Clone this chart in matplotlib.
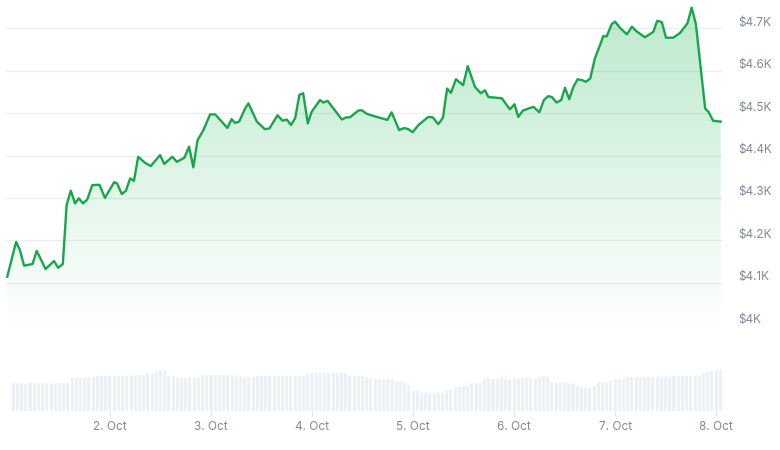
import matplotlib
matplotlib.use("Agg")
import matplotlib.pyplot as plt
import numpy as np
from matplotlib.transforms import ScaledTranslation

plt.rcParams['font.family'] = ['Inter', 'DejaVu Sans']

# ---- data (hours since 1 Oct 00:00) ----
hours = [-0.4, 1.7, 2.6, 3.6, 5.6, 6.6, 8.7, 10.7, 11.7, 12.8, 13.7, 14.7, 15.7, 16.6, 17.6,
         18.6, 19.8, 21.5, 22.8, 25.0, 25.7, 26.8, 27.8, 28.8, 29.7, 30.7, 32.3, 33.7, 35.9,
         36.9, 38.8, 39.9, 41.7, 42.8, 43.8, 44.8, 46.2, 47.8, 49.0, 51.9, 52.9, 53.7, 54.7,
         56.1, 56.9, 58.9, 60.8, 61.9, 63.8, 65.0, 66.0, 67.0, 68.0, 69.0, 69.9, 71.0, 71.9,
         73.9, 74.7, 75.7, 79.1, 80.1, 81.0, 83.0, 83.8, 85.1, 87.4, 89.9, 90.9, 92.7, 93.9,
         94.9, 95.9, 97.3, 99.6, 100.7, 102.0, 103.1, 104.1, 105.0, 106.2, 107.9, 109.0, 110.7,
         112.1, 113.1, 113.9, 115.1, 117.1, 119.0, 120.1, 121.0, 122.1, 124.6, 126.0, 127.1,
         128.1, 129.0, 130.1, 131.2, 132.1, 133.1, 134.1, 135.1, 136.1, 137.1, 138.1, 139.2,
         140.7, 141.2, 142.0, 143.2, 144.0, 145.2, 146.8, 148.0, 149.1, 151.1, 153.1, 154.0,
         155.1, 156.1, 157.8, 159.4, 161.2, 162.2, 163.2, 165.4, 166.2, 167.3, 169.1]
prices = [4114, 4196, 4177, 4140, 4144, 4175, 4132, 4151, 4135, 4144, 4283, 4317, 4287, 4299, 4287,
          4296, 4330, 4331, 4300, 4337, 4334, 4309, 4317, 4346, 4340, 4397, 4383, 4375, 4401,
          4380, 4397, 4385, 4395, 4421, 4372, 4436, 4460, 4497, 4497, 4465, 4486, 4477, 4480,
          4511, 4523, 4480, 4462, 4464, 4495, 4482, 4485, 4472, 4488, 4543, 4547, 4476, 4503,
          4531, 4525, 4529, 4485, 4490, 4490, 4506, 4507, 4498, 4491, 4484, 4502, 4460, 4465,
          4462, 4455, 4472, 4491, 4490, 4474, 4489, 4558, 4548, 4580, 4566, 4611, 4562,
          4547, 4554, 4538, 4537, 4535, 4509, 4521, 4491, 4506, 4515, 4502, 4531,
          4540, 4538, 4525, 4531, 4560, 4533, 4562, 4580, 4578, 4574, 4582, 4629,
          4668, 4682, 4681, 4710, 4716, 4701, 4686, 4704, 4693, 4679, 4692, 4718,
          4715, 4678, 4678, 4689, 4712, 4749, 4710, 4511, 4503, 4482, 4480]

# hourly volume ($M), one bar per hour from 1 Oct 01:00
volumes = [
    1110, 1130, 1120, 1100, 1140, 1120, 1110, 1130, 1120, 1100, 1130, 1110, 1120, 1130, 1320, 1330,
    1320, 1340, 1330, 1350, 1400, 1410, 1400, 1390, 1410, 1400, 1400, 1410, 1400, 1456, 1456, 1460,
    1536, 1540, 1560, 1640, 1650, 1400, 1390, 1340, 1330, 1340, 1350, 1340, 1330, 1456, 1460, 1450,
    1456, 1460, 1450, 1456, 1460, 1380, 1390, 1380, 1370, 1380, 1400, 1410, 1400, 1390, 1400, 1410,
    1400, 1400, 1390, 1400, 1410, 1400, 1536, 1540, 1530, 1536, 1540, 1530, 1520, 1536, 1530, 1520,
    1400, 1410, 1400, 1390, 1380, 1280, 1290, 1280, 1270, 1280, 1260, 1160, 1160, 1150, 1000, 820,
    800, 720, 720, 710, 720, 715, 730, 820, 840, 960, 970, 990, 1000, 1120, 1130, 1140,
    1300, 1310, 1300, 1300, 1310, 1300, 1300, 1310, 1300, 1310, 1320, 1310, 1300, 1380, 1390, 1400,
    1144, 1140, 1150, 1130, 1120, 1100, 990, 980, 970, 960, 990, 1144, 1150, 1160, 1200, 1280,
    1280, 1300, 1352, 1360, 1350, 1340, 1352, 1360, 1350, 1352, 1360, 1370, 1352, 1400, 1400, 1410,
    1400, 1420, 1410, 1400, 1536, 1580, 1620, 1640, 1664]
vol_hours = list(range(1, len(volumes) + 1))

day_ticks = [24, 48, 72, 96, 120, 144, 168]
day_labels = ['2. Oct', '3. Oct', '4. Oct', '5. Oct', '6. Oct', '7. Oct', '8. Oct']
price_ticks = [4000, 4100, 4200, 4300, 4400, 4500, 4600, 4700]
price_labels = ['$4K', '$4.1K', '$4.2K', '$4.3K', '$4.4K', '$4.5K', '$4.6K', '$4.7K']

LINE = '#18a64b'
TXT = '#808a98'
XMIN, XMAX = -0.7, 169.4
YMIN, YMAX = 4000, 4767

fig = plt.figure(figsize=(7.8, 4.5), dpi=100)
fig.patch.set_facecolor('white')

# ---- price axes ----
ax = fig.add_axes([6 / 780, 125 / 450, 716 / 780, 325 / 450])
ax.set_facecolor('none')

# gradient fill under the line
poly = ax.fill_between(hours, prices, YMIN, color='none', lw=0)
path = poly.get_paths()[0]
n = 256
alpha = np.linspace(0.30, 0.0, n)
grad = np.zeros((n, 1, 4))
grad[:, 0, 0] = 0.12
grad[:, 0, 1] = 0.72
grad[:, 0, 2] = 0.33
grad[:, 0, 3] = alpha
im = ax.imshow(grad, extent=[XMIN, XMAX, YMIN, max(prices)], aspect='auto',
               origin='upper', zorder=1, interpolation='bilinear')
im.set_clip_path(path, transform=ax.transData)

ax.plot(hours, prices, color=LINE, lw=1.7, solid_joinstyle='round', zorder=3)

ax.set_xlim(XMIN, XMAX)
ax.set_ylim(YMIN, YMAX)
ax.set_yticks(price_ticks)
ax.set_yticklabels(price_labels)
ax.yaxis.tick_right()
ax.tick_params(axis='y', length=0, pad=11.5, labelsize=8.5, labelcolor=TXT)
ax.set_xticks([])
ax.grid(axis='y', color='#eceef1', lw=0.9, zorder=0)
ax.set_axisbelow(True)
for s in ax.spines.values():
    s.set_visible(False)
off = ScaledTranslation(0, 5 / 72, fig.dpi_scale_trans)
for lab in ax.get_yticklabels():
    lab.set_transform(lab.get_transform() + off)
    lab.set_horizontalalignment('left')

# ---- volume axes ----
axv = fig.add_axes([6 / 780, 39 / 450, 716 / 780, 71 / 450])
axv.bar(vol_hours, volumes, width=0.72, color='#edf1f5', lw=0)
axv.set_xlim(XMIN, XMAX)
axv.set_ylim(0, 2840)
axv.set_yticks([])
axv.set_xticks(day_ticks)
axv.set_xticklabels(day_labels)
axv.tick_params(axis='x', length=3.5, width=0.8, color='#dfe3e8', pad=4,
                labelsize=8.5, labelcolor=TXT)
for s in axv.spines.values():
    s.set_visible(False)

fig.savefig('out.png', dpi=100, facecolor='white')
